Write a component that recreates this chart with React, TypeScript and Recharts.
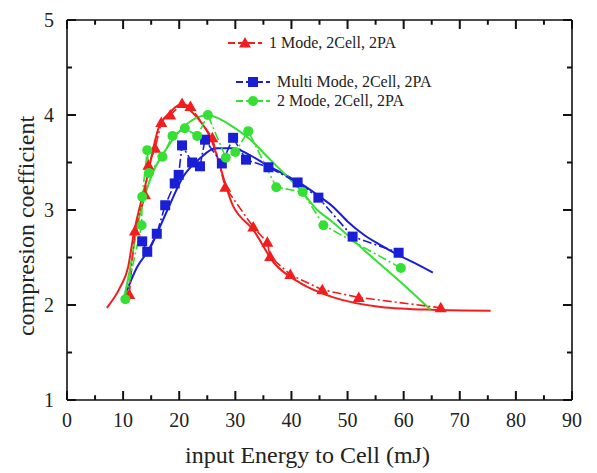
import { LineChart, Line, XAxis, YAxis, ReferenceLine } from "recharts";

// measured points (x = input energy mJ, y = compression coefficient)
const mode1X = [11.1, 12.1, 13.9, 14.5, 15.7, 16.8, 18.4, 20.5, 22.0, 25.9, 28.2, 33.2, 35.7, 36.2, 39.8, 45.5, 52.0, 66.6];
const mode1Y = [2.11, 2.78, 3.16, 3.47, 3.65, 3.92, 4.0, 4.12, 4.09, 3.76, 3.24, 2.82, 2.66, 2.51, 2.32, 2.16, 2.08, 1.97];

const multiX = [13.4, 14.3, 16.0, 17.5, 19.2, 19.9, 20.5, 22.3, 23.7, 24.6, 27.6, 29.6, 31.9, 35.9, 41.1, 44.8, 50.9, 59.1];
const multiY = [2.67, 2.56, 2.75, 3.05, 3.28, 3.37, 3.68, 3.5, 3.46, 3.74, 3.49, 3.76, 3.53, 3.45, 3.29, 3.13, 2.72, 2.55];

const mode2X = [10.4, 13.3, 13.4, 14.3, 14.6, 17.0, 18.8, 21.0, 23.2, 25.1, 28.3, 30.0, 32.3, 37.3, 42.0, 45.7, 59.5];
const mode2Y = [2.06, 2.84, 3.14, 3.63, 3.39, 3.56, 3.78, 3.86, 3.78, 4.0, 3.55, 3.61, 3.83, 3.24, 3.19, 2.84, 2.39];

// fitted curves
const fit1X = [7.1, 9.5, 10.9, 11.8, 14.2, 16.3, 18.4, 20.2, 22.3, 25.5, 29.7, 33.2, 36.8, 41.6, 47.5, 55.9, 65, 75.5];
const fit1Y = [1.97, 2.19, 2.4, 2.72, 3.32, 3.86, 4.03, 4.11, 4.03, 3.77, 3.03, 2.79, 2.45, 2.23, 2.08, 1.98, 1.95, 1.94];

const fitMX = [10.2, 12.5, 14.8, 17.9, 20.7, 23.8, 26.5, 29.6, 32.5, 35.7, 38.6, 41.6, 44.6, 47.5, 50.0, 52.9, 55.9, 58.9, 62.0, 65.2];
const fitMY = [2.08, 2.4, 2.6, 3.0, 3.35, 3.55, 3.65, 3.65, 3.58, 3.47, 3.38, 3.28, 3.16, 3.03, 2.88, 2.74, 2.63, 2.53, 2.44, 2.34];

const fit2X = [10.0, 11.3, 12.5, 14.8, 17.9, 20.7, 23.5, 25.0, 26.8, 29.7, 32.7, 35.7, 38.6, 41.6, 44.6, 47.0, 52.9, 58.9, 64.8];
const fit2Y = [2.03, 2.4, 2.82, 3.32, 3.66, 3.87, 3.98, 4.0, 3.97, 3.87, 3.74, 3.56, 3.39, 3.21, 3.0, 2.89, 2.58, 2.27, 1.95];

const xMajor = [0, 10, 20, 30, 40, 50, 60, 70, 80, 90];
const xMinor = [5, 15, 25, 35, 45, 55, 65, 75, 85];
const yMajor = [1, 2, 3, 4, 5];
const yMinor = [1.5, 2.5, 3.5, 4.5];

const legendNames = ["1 Mode, 2Cell, 2PA", "Multi Mode, 2Cell, 2PA", "2 Mode, 2Cell, 2PA"];

const RED = "#f21d1d";
const BLUE = "#1a1fd6";
const GREEN = "#33e033";
const INK = "#111";

const X0 = 0, X1 = 90, Y0 = 1, Y1 = 5;
// inward tick lengths in data units (~9px / ~5px)
const TX = 1.6, TXm = 0.9, TY = 0.095, TYm = 0.05;

const toPts = (xs: number[], ys: number[]) => xs.map((x, i) => ({ x, y: ys[i] }));

const Triangle = ({ cx, cy, color }: any) => (
  <polygon points={`${cx},${cy - 6} ${cx - 6},${cy + 4.5} ${cx + 6},${cy + 4.5}`} fill={color} />
);
const Square = ({ cx, cy, color }: any) => <rect x={cx - 5} y={cy - 5} width={10} height={10} fill={color} />;
const Circle = ({ cx, cy, color }: any) => <circle cx={cx} cy={cy} r={5} fill={color} />;

const dotFn = (Shape: any, color: string) => (p: any) =>
  <Shape key={p.index} cx={p.cx} cy={p.cy} color={color} />;

const bottomLabel = (p: any) => (
  <text key={"b" + p.payload.value} x={p.x} y={Number(p.y) + 27} textAnchor="middle" fontSize={20} fill="#222">
    {p.payload.value}
  </text>
);
const leftLabel = (p: any) => (
  <text key={"l" + p.payload.value} x={Number(p.x) - 13} y={Number(p.y) + 7} textAnchor="end" fontSize={20} fill="#222">
    {p.payload.value}
  </text>
);

// tick segments for all four sides, built from the tick arrays
const tickSegs: { x1: number; y1: number; x2: number; y2: number }[] = [
  ...xMajor.flatMap((v) => [
    { x1: v, y1: Y0, x2: v, y2: Y0 + TY },
    { x1: v, y1: Y1, x2: v, y2: Y1 - TY },
  ]),
  ...xMinor.flatMap((v) => [
    { x1: v, y1: Y0, x2: v, y2: Y0 + TYm },
    { x1: v, y1: Y1, x2: v, y2: Y1 - TYm },
  ]),
  ...yMajor.flatMap((v) => [
    { x1: X0, y1: v, x2: X0 + TX, y2: v },
    { x1: X1, y1: v, x2: X1 - TX, y2: v },
  ]),
  ...yMinor.flatMap((v) => [
    { x1: X0, y1: v, x2: X0 + TXm, y2: v },
    { x1: X1, y1: v, x2: X1 - TXm, y2: v },
  ]),
];

const LegendSymbol = ({ color, Shape }: any) => (
  <svg width={36} height={14} style={{ display: "block" }}>
    <line x1={1} y1={7} x2={35} y2={7} stroke={color} strokeWidth={2} strokeDasharray="7 3" />
    <Shape cx={18} cy={7} color={color} />
  </svg>
);

const legendPos = [
  { left: 219, top: 26, color: RED, Shape: Triangle },
  { left: 227, top: 65, color: BLUE, Shape: Square },
  { left: 227, top: 84, color: GREEN, Shape: Circle },
];

export default function App() {
  return (
    <div style={{ position: "relative", width: 580, height: 460, fontFamily: "'Liberation Serif', serif" }}>
      <LineChart width={580} height={460} margin={{ top: 12, right: 16, left: 0, bottom: 0 }}>
        <XAxis
          dataKey="x"
          type="number"
          domain={[X0, X1]}
          ticks={xMajor}
          interval={0}
          tickSize={0}
          tickMargin={0}
          tickLine={false}
          height={68}
          axisLine={{ stroke: INK, strokeWidth: 1.6 }}
          tick={bottomLabel}
          label={({ viewBox }: any) => (
            <text x={viewBox.x + viewBox.width / 2 - 12} y={viewBox.y + 63} textAnchor="middle" fontSize={24} fill="#222">
              input Energy to Cell (mJ)
            </text>
          )}
        />
        <YAxis
          dataKey="y"
          type="number"
          domain={[Y0, Y1]}
          ticks={yMajor}
          interval={0}
          tickSize={0}
          tickMargin={0}
          tickLine={false}
          width={59}
          axisLine={{ stroke: INK, strokeWidth: 1.6 }}
          tick={leftLabel}
          label={({ viewBox }: any) => {
            const cx = viewBox.x + 26;
            const cy = viewBox.y + viewBox.height / 2 + 16;
            return (
              <text x={cx} y={cy} transform={`rotate(-90 ${cx} ${cy})`} textAnchor="middle" fontSize={24} fill="#222">
                compresion coefficient
              </text>
            );
          }}
        />

        {/* top and right frame */}
        <ReferenceLine y={Y1} stroke={INK} strokeWidth={1.6} ifOverflow="visible" />
        <ReferenceLine x={X1} stroke={INK} strokeWidth={1.6} ifOverflow="visible" />
        {tickSegs.map((s, i) => (
          <ReferenceLine
            key={"t" + i}
            segment={[{ x: s.x1, y: s.y1 }, { x: s.x2, y: s.y2 }]}
            stroke={INK}
            strokeWidth={2}
            ifOverflow="visible"
          />
        ))}

        <Line data={toPts(fit1X, fit1Y)} dataKey="y" type="monotone" stroke={RED} strokeWidth={2} dot={false} isAnimationActive={false} />
        <Line data={toPts(fitMX, fitMY)} dataKey="y" type="monotone" stroke={BLUE} strokeWidth={2} dot={false} isAnimationActive={false} />
        <Line data={toPts(fit2X, fit2Y)} dataKey="y" type="monotone" stroke={GREEN} strokeWidth={2} dot={false} isAnimationActive={false} />

        <Line data={toPts(mode1X, mode1Y)} dataKey="y" type="linear" stroke={RED} strokeWidth={1.6} strokeDasharray="9 3 2 3" dot={dotFn(Triangle, RED)} isAnimationActive={false} />
        <Line data={toPts(multiX, multiY)} dataKey="y" type="linear" stroke={BLUE} strokeWidth={1.6} strokeDasharray="9 3 2 3" dot={dotFn(Square, BLUE)} isAnimationActive={false} />
        <Line data={toPts(mode2X, mode2Y)} dataKey="y" type="linear" stroke={GREEN} strokeWidth={1.6} strokeDasharray="9 3 2 3" dot={dotFn(Circle, GREEN)} isAnimationActive={false} />
      </LineChart>

      {legendPos.map((l, i) => (
        <div
          key={legendNames[i]}
          style={{ position: "absolute", left: l.left, top: l.top, display: "flex", alignItems: "center", gap: 6 }}
        >
          <LegendSymbol color={l.color} Shape={l.Shape} />
          <span style={{ fontSize: 16, color: "#222", whiteSpace: "nowrap" }}>{legendNames[i]}</span>
        </div>
      ))}
    </div>
  );
}
